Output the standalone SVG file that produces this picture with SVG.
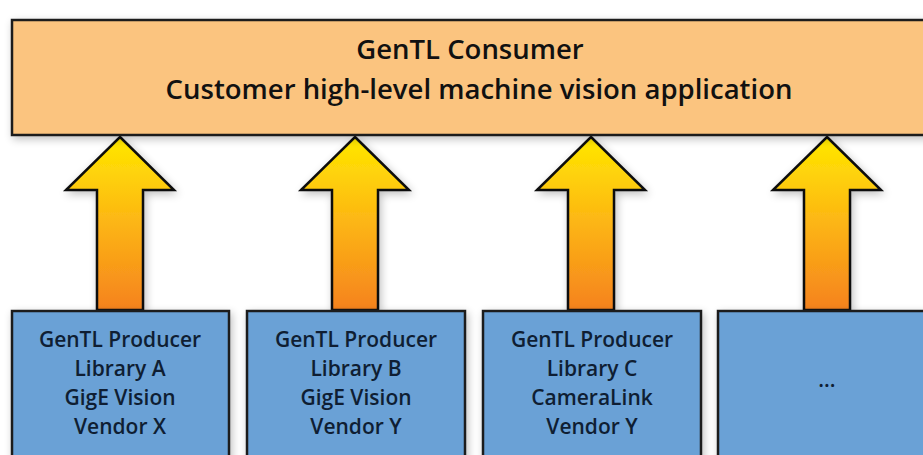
<svg xmlns="http://www.w3.org/2000/svg" width="923" height="455" viewBox="0 0 923 455">
<defs>
<linearGradient id="ag" x1="0" y1="0" x2="0" y2="1">
<stop offset="0" stop-color="#FFE800"/>
<stop offset="0.45" stop-color="#FDBA12"/>
<stop offset="1" stop-color="#F5821F"/>
</linearGradient>
<filter id="sh" x="-20%" y="-20%" width="140%" height="140%">
<feGaussianBlur in="SourceAlpha" stdDeviation="4"/>
<feOffset dx="2" dy="3"/>
<feComponentTransfer><feFuncA type="linear" slope="0.25"/></feComponentTransfer>
<feMerge><feMergeNode/><feMergeNode in="SourceGraphic"/></feMerge>
</filter>
<path id="arrow" d="M0,0 L54,53 L23,53 L23,173 L-23,173 L-23,53 L-54,53 Z"/>
</defs>
<style>
.cons{fill:#FBC47F;stroke:#1b1b1b;stroke-width:2.5}
.prod{fill:#6AA1D6;stroke:#1b1b1b;stroke-width:2.5}
.arr{fill:url(#ag);stroke:#111;stroke-width:2.5;stroke-linejoin:miter}
.t1{font-family:"Open Sans","Liberation Sans",sans-serif;font-weight:600;font-size:27.5px;fill:#111;text-anchor:middle}
.t2{font-family:"Open Sans","Liberation Sans",sans-serif;font-weight:600;font-size:21px;fill:#0f1e33;text-anchor:middle}
</style>
<rect width="923" height="455" fill="#ffffff"/>
<g id="connectors">
<use href="#arrow" x="120" y="137" class="arr" filter="url(#sh)"/>
<use href="#arrow" x="355" y="137" class="arr" filter="url(#sh)"/>
<use href="#arrow" x="591" y="137" class="arr" filter="url(#sh)"/>
<use href="#arrow" x="827" y="137" class="arr" filter="url(#sh)"/>
</g>
<g id="consumer">
<rect x="12" y="20" width="920" height="115" class="cons" filter="url(#sh)"/>
<text x="470" y="59" class="t1">GenTL Consumer</text>
<text x="479" y="99" class="t1">Customer high-level machine vision application</text>
</g>
<g id="producerA">
<rect x="12" y="311" width="217" height="160" class="prod" filter="url(#sh)"/>
<text x="120" y="347" class="t2">GenTL Producer</text>
<text x="120" y="376" class="t2">Library A</text>
<text x="120" y="405" class="t2">GigE Vision</text>
<text x="120" y="434" class="t2">Vendor X</text>
</g>
<g id="producerB">
<rect x="247" y="311" width="218" height="160" class="prod" filter="url(#sh)"/>
<text x="356" y="347" class="t2">GenTL Producer</text>
<text x="356" y="376" class="t2">Library B</text>
<text x="356" y="405" class="t2">GigE Vision</text>
<text x="356" y="434" class="t2">Vendor Y</text>
</g>
<g id="producerC">
<rect x="483" y="311" width="218" height="160" class="prod" filter="url(#sh)"/>
<text x="592" y="347" class="t2">GenTL Producer</text>
<text x="592" y="376" class="t2">Library C</text>
<text x="592" y="405" class="t2">CameraLink</text>
<text x="592" y="434" class="t2">Vendor Y</text>
</g>
<g id="producerMore">
<rect x="718" y="311" width="220" height="160" class="prod" filter="url(#sh)"/>
<text x="827" y="387" class="t2">...</text>
</g>
</svg>
